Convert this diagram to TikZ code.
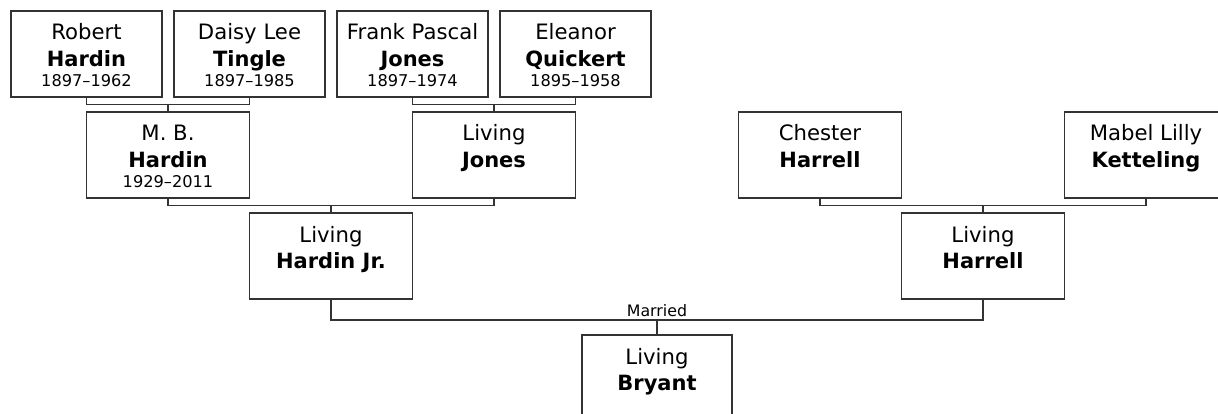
\documentclass[tikz,border=0pt]{standalone}
\usepackage{fontspec}
\setmainfont{DejaVu Sans}
\definecolor{linec}{HTML}{333333}
\tikzset{
  pbox/.style={draw=linec, line width=1.4pt, rectangle, inner sep=0pt, outer sep=0pt, minimum height=86pt, minimum width=#1},
  nm/.style={font=\fontsize{21.2}{24}\selectfont, anchor=base, inner sep=0pt},
  sn/.style={font=\fontsize{21}{24}\selectfont\bfseries, anchor=base, inner sep=0pt},
  dts/.style={font=\fontsize{16.2}{18}\selectfont, anchor=base, inner sep=0pt},
  mrs/.style={font=\fontsize{15.8}{18}\selectfont, anchor=base, inner sep=0pt},
  conn/.style={draw=linec, line width=1.4pt},
}
% #1 name, #2 x centre, #3 top, #4 width, #5 first, #6 last, #7 dates
\newcommand\persond[7]{%
  \node[pbox=#4] (#1) at (#2,#3+43) {};
  \node[nm] (#1-f) at (#2,#3+29) {#5};
  \node[sn] (#1-l) at (#2,#3+55.5) {#6};
  \node[dts] (#1-d) at (#2,#3+76) {#7};
}
\newcommand\persono[6]{%
  \node[pbox=#4] (#1) at (#2,#3+43) {};
  \node[nm] (#1-f) at (#2,#3+29) {#5};
  \node[sn] (#1-l) at (#2,#3+55.5) {#6};
}
\begin{document}
\begin{tikzpicture}[x=1pt,y=-1pt]
\useasboundingbox (0,0) rectangle (1218,414);
% generation 1
\persond{rh}{86.5}{11}{151pt}{Robert}{Hardin}{1897–1962}
\persond{dt}{249.5}{11}{151pt}{Daisy Lee}{Tingle}{1897–1985}
\persond{fj}{412.5}{11}{151pt}{Frank Pascal}{Jones}{1897–1974}
\persond{eq}{575.5}{11}{151pt}{Eleanor}{Quickert}{1895–1958}
% generation 2
\persond{mb}{168}{112}{163pt}{M. B.}{Hardin}{1929–2011}
\persono{lj}{494}{112}{163pt}{Living}{Jones}
\persono{ch}{820}{112}{163pt}{Chester}{Harrell}
\persono{mk}{1146}{112}{163pt}{Mabel Lilly}{Ketteling}
% generation 3
\persono{hj}{331}{213}{163pt}{Living}{Hardin Jr.}
\persono{lh}{983}{213}{163pt}{Living}{Harrell}
% generation 4
\persono{by}{657}{335}{150pt}{Living}{Bryant}
% junctions
\coordinate (j1) at (168,104.5);
\coordinate (j2) at (494,104.5);
\coordinate (j3) at (331,205.5);
\coordinate (j4) at (983,205.5);
\coordinate (j5) at (657,320);
% connectors
\draw[conn] (rh.south) |- (j1) -| (dt.south);
\draw[conn] (j1) -- (mb.north);
\draw[conn] (fj.south) |- (j2) -| (eq.south);
\draw[conn] (j2) -- (lj.north);
\draw[conn] (mb.south) |- (j3) -| (lj.south);
\draw[conn] (j3) -- (hj.north);
\draw[conn] (ch.south) |- (j4) -| (mk.south);
\draw[conn] (j4) -- (lh.north);
\draw[conn] (hj.south) |- (j5) -| (lh.south);
\draw[conn] (j5) -- (by.north);
\node[mrs] (mar) at (657,316) {Married};
\end{tikzpicture}
\end{document}
